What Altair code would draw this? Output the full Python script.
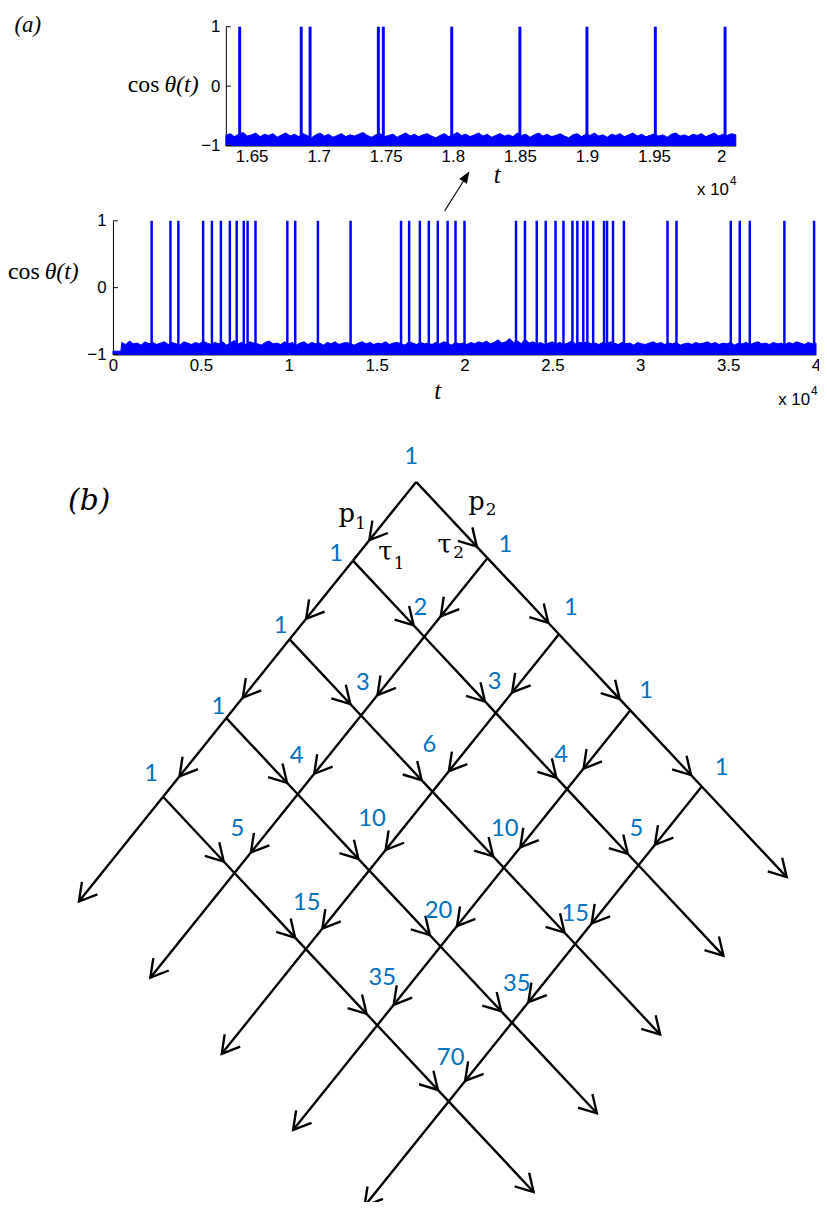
import math
import altair as alt
import numpy as np
import pandas as pd

# ======================= DATA =======================
# (a) upper panel: zoomed time window (t in units of 10^4)
top_t_range = [1.6308, 2.011]
top_spikes = [1.6411, 1.6870, 1.6936, 1.7445, 1.7482, 1.7992, 1.8500, 1.9000, 1.9510, 2.0030]
top_env = [
    -0.83, -0.80, -0.85, -0.81, -0.78, -0.84, -0.82, -0.79, -0.85, -0.81,
    -0.83, -0.80, -0.86, -0.82, -0.79, -0.84, -0.81, -0.85, -0.80, -0.83,
    -0.87, -0.82, -0.79, -0.84, -0.81, -0.86, -0.83, -0.80, -0.85, -0.82,
    -0.84, -0.81, -0.78, -0.83, -0.86, -0.82, -0.80, -0.85, -0.83, -0.81,
    -0.86, -0.82, -0.79, -0.84, -0.81, -0.85, -0.82, -0.80, -0.84, -0.87,
    -0.83, -0.80, -0.85, -0.82, -0.78, -0.83, -0.81, -0.85, -0.82, -0.79,
    -0.84, -0.81, -0.86, -0.83, -0.80, -0.84, -0.82, -0.85, -0.79, -0.83,
    -0.81, -0.86, -0.82, -0.79, -0.84, -0.81, -0.85, -0.83, -0.80, -0.84,
    -0.87, -0.82, -0.80, -0.85, -0.81, -0.83, -0.79, -0.84, -0.82, -0.86,
    -0.81, -0.83, -0.80, -0.85, -0.82, -0.79, -0.84, -0.81, -0.85, -0.83,
    -0.80, -0.84, -0.82, -0.86, -0.81, -0.79, -0.84, -0.82, -0.85, -0.81,
    -0.83, -0.80, -0.85, -0.82, -0.79, -0.84, -0.81, -0.83, -0.80, -0.82,
]
top_xticks = [1.65, 1.7, 1.75, 1.8, 1.85, 1.9, 1.95, 2.0]

# (a) lower panel: full record
bot_t_range = [0, 4]
bot_spikes = [
    0.220, 0.327, 0.372, 0.513, 0.563, 0.614, 0.665, 0.704, 0.744, 0.766,
    0.811, 0.992, 1.037, 1.166, 1.352, 1.639, 1.685, 1.746, 1.797, 1.848,
    1.904, 1.949, 2.000, 2.293, 2.344, 2.411, 2.462, 2.518, 2.563, 2.614,
    2.642, 2.676, 2.699, 2.732, 2.794, 2.811, 2.845, 2.907, 3.155, 3.206,
    3.515, 3.566, 3.623, 3.820, 3.989,
]
bot_lead_t = [0.0, 0.045]
bot_lead_v = [-0.95, -0.95]
bot_env_t_range = [0.05, 4.0]
bot_env = [
    -0.82, -0.85, -0.80, -0.84, -0.83, -0.86, -0.81, -0.84, -0.82, -0.85,
    -0.83, -0.81, -0.85, -0.82, -0.84, -0.86, -0.81, -0.83, -0.85, -0.82,
    -0.84, -0.80, -0.83, -0.85, -0.82, -0.84, -0.81, -0.86, -0.83, -0.79,
    -0.84, -0.82, -0.85, -0.81, -0.83, -0.84, -0.86, -0.82, -0.80, -0.84,
    -0.83, -0.85, -0.81, -0.84, -0.82, -0.86, -0.83, -0.81, -0.85, -0.82,
    -0.84, -0.83, -0.86, -0.82, -0.84, -0.81, -0.85, -0.83, -0.82, -0.84,
    -0.86, -0.83, -0.81, -0.84, -0.82, -0.85, -0.83, -0.84, -0.81, -0.85,
    -0.83, -0.82, -0.84, -0.86, -0.81, -0.83, -0.85, -0.82, -0.84, -0.83,
    -0.85, -0.82, -0.84, -0.81, -0.83, -0.86, -0.82, -0.84, -0.83, -0.85,
    -0.82, -0.84, -0.81, -0.83, -0.80, -0.84, -0.82, -0.78, -0.83, -0.81,
    -0.76, -0.82, -0.80, -0.84, -0.77, -0.83, -0.81, -0.84, -0.82, -0.85,
    -0.83, -0.81, -0.84, -0.82, -0.85, -0.83, -0.80, -0.84, -0.82, -0.83,
    -0.81, -0.84, -0.83, -0.85, -0.82, -0.84, -0.81, -0.83, -0.85, -0.82,
    -0.84, -0.83, -0.86, -0.82, -0.84, -0.85, -0.83, -0.81, -0.84, -0.82,
    -0.85, -0.83, -0.84, -0.82, -0.86, -0.84, -0.83, -0.85, -0.82, -0.84,
    -0.83, -0.81, -0.84, -0.82, -0.85, -0.83, -0.84, -0.82, -0.86, -0.83,
    -0.84, -0.82, -0.85, -0.83, -0.81, -0.84, -0.83, -0.85, -0.82, -0.84,
    -0.83, -0.85, -0.82, -0.84, -0.81, -0.83, -0.85, -0.82, -0.84, -0.83,
]
bot_xticks = [0, 0.5, 1, 1.5, 2, 2.5, 3, 3.5, 4]
y_ticks = [-1, 0, 1]

# (b) lattice: counts at node (i steps down-left, j steps down-right)
node_counts = [
    [1, 1, 1, 1, 1],
    [1, 2, 3, 4, 5],
    [1, 3, 6, 10, 15],
    [1, 4, 10, 20, 35],
    [1, 5, 15, 35, 70],
]

# ======================= LAYOUT =======================
M = 8                      # page margin
W, H = 819, 1194           # drawing area (page coords minus margin)
BLUE = "#0000FF"
NUMBLUE = "#0070C0"
SANS = "Liberation Sans"
SERIF = "Liberation Serif"

# pixel placement of the two time-series panels (page coords)
top_px_x = [228, 743]
top_px_y = [141, 21]       # y=-1 , y=1
bot_px_x = [114, 824]
bot_px_y = [352, 217]

# lattice geometry (page coords)
L_O = (420.2, 480.7)
L_U = (-63.9, 79.5)        # down-left step
L_V = (72.1, 76.9)         # down-right step
EXT_U, EXT_V = 1.33, 1.19  # length of outer free lines
F_U, F_V = 0.74, 0.85      # arrowhead position along inner segments

# label offsets from nodes (dx, dy), same order as node_counts
num_off = [
    [(-5, -25), (18, -13), (12, -26), (16, -19), (20, -19)],
    [(-17, -7), (-4, -29), (-1, -31), (-6, -34), (-2, -37)],
    [(-9, -13), (2, -33), (-3, -47), (1, -39), (0, -30)],
    [(-8, -11), (-1, -39), (3, -52), (-2, -36), (5, -39)],
    [(-12, -23), (3, -44), (1, -46), (5, -48), (2, -44)],
]

ARROW_OPEN = "M -0.5 0.866 L 0 0 L 0.5 0.866"
ARROW_FILL = "M 0 0 L -0.38 1 L 0.38 1 Z"


def cx(v):
    return v - M


def ang(dx, dy):
    return math.degrees(math.atan2(dx, -dy)) % 360


# ======================= PANEL (a) top =======================
tx = alt.Scale(domain=top_t_range, range=[cx(top_px_x[0]), cx(top_px_x[1])], nice=False, zero=False)
ty = alt.Scale(domain=[-1, 1], range=[cx(top_px_y[0]), cx(top_px_y[1])], nice=False, zero=False)
ax_style = dict(grid=False, title=None, labelFont=SANS, labelFontSize=17, labelColor="black",
                domainColor="black", domainWidth=1, labelFlush=False, labelOverlap=False,
                format="~g")
tax = alt.Axis(orient="bottom", offset=cx(top_px_y[0]) - H, values=top_xticks,
               tickSize=0, labelPadding=3, **ax_style)
tay = alt.Axis(orient="left", offset=-cx(top_px_x[0]), values=y_ticks, tickSize=0,
               labelPadding=6, **ax_style)

top_band_df = pd.DataFrame({"t": np.linspace(top_t_range[0], top_t_range[1], len(top_env)),
                            "v": top_env, "v2": -1.0})
top_spk_df = pd.DataFrame({"t": top_spikes, "v": -1.0, "v2": 1.0})
top_tick_df = pd.DataFrame({"v": y_ticks})

top_band = alt.Chart(top_band_df).mark_area(color=BLUE, stroke=BLUE, strokeWidth=1).encode(
    x=alt.X("t:Q", scale=tx, axis=tax), y=alt.Y("v:Q", scale=ty, axis=tay), y2="v2:Q")
top_spk = alt.Chart(top_spk_df).mark_rule(color=BLUE, strokeWidth=3).encode(
    x=alt.X("t:Q", scale=tx, axis=tax), y=alt.Y("v:Q", scale=ty, axis=tay), y2="v2:Q")
top_tk = alt.Chart(top_tick_df).mark_rule(color="black", strokeWidth=1).encode(
    x=alt.value(cx(top_px_x[0])), x2=alt.value(cx(top_px_x[0]) + 5),
    y=alt.Y("v:Q", scale=ty, axis=tay))
top_panel = alt.layer(top_band, top_spk, top_tk)

# ======================= PANEL (a) bottom =======================
bx = alt.Scale(domain=bot_t_range, range=[cx(bot_px_x[0]), cx(bot_px_x[1])], nice=False, zero=False)
by = alt.Scale(domain=[-1, 1], range=[cx(bot_px_y[0]), cx(bot_px_y[1])], nice=False, zero=False)
bax = alt.Axis(orient="bottom", offset=cx(bot_px_y[0]) - H, values=bot_xticks,
               tickSize=0, labelPadding=3, **ax_style)
bay = alt.Axis(orient="left", offset=-cx(bot_px_x[0]), values=y_ticks, tickSize=0,
               labelPadding=7, **ax_style)

bot_band_df = pd.DataFrame({
    "t": list(bot_lead_t) + list(np.linspace(bot_env_t_range[0], bot_env_t_range[1], len(bot_env))),
    "v": list(bot_lead_v) + bot_env, "v2": -1.0})
bot_spk_df = pd.DataFrame({"t": bot_spikes, "v": -1.0, "v2": 1.0})
bot_tick_df = pd.DataFrame({"v": y_ticks})

bot_band = alt.Chart(bot_band_df).mark_area(color=BLUE, stroke=BLUE, strokeWidth=1).encode(
    x=alt.X("t:Q", scale=bx, axis=bax), y=alt.Y("v:Q", scale=by, axis=bay), y2="v2:Q")
bot_spk = alt.Chart(bot_spk_df).mark_rule(color=BLUE, strokeWidth=2.5).encode(
    x=alt.X("t:Q", scale=bx, axis=bax), y=alt.Y("v:Q", scale=by, axis=bay), y2="v2:Q")
bot_tk = alt.Chart(bot_tick_df).mark_rule(color="black", strokeWidth=1).encode(
    x=alt.value(cx(bot_px_x[0])), x2=alt.value(cx(bot_px_x[0]) + 5),
    y=alt.Y("v:Q", scale=by, axis=bay))
bot_panel = alt.layer(bot_band, bot_spk, bot_tk)

# ======================= PANEL (b) + annotations (page-pixel scales) =======================
px = alt.Scale(domain=[M, M + W], range=[0, W], nice=False, zero=False)
py = alt.Scale(domain=[M, M + H], range=[0, H], nice=False, zero=False)
X = lambda f: alt.X(f, scale=px, axis=None)
Y = lambda f: alt.Y(f, scale=py, axis=None)

n = len(node_counts)
seg_rows, arr_rows, num_rows = [], [], []
for i in range(n):
    for j in range(n):
        x0 = L_O[0] + i * L_U[0] + j * L_V[0]
        y0 = L_O[1] + i * L_U[1] + j * L_V[1]
        for (d, last, ext, f) in ((L_U, i == n - 1, EXT_U, F_U), (L_V, j == n - 1, EXT_V, F_V)):
            k = ext if last else 1.0
            fr = 1.0 if last else f
            x1, y1 = x0 + k * d[0], y0 + k * d[1]
            seg_rows.append({"x": x0, "y": y0, "x2": x1, "y2": y1})
            arr_rows.append({"x": x0 + fr * (x1 - x0), "y": y0 + fr * (y1 - y0), "a": ang(*d)})
        dx, dy = num_off[i][j]
        num_rows.append({"x": x0 + dx, "y": y0 + dy, "text": str(node_counts[i][j])})

seg_df = pd.DataFrame(seg_rows)
arr_df = pd.DataFrame(arr_rows)
num_df = pd.DataFrame(num_rows)

segs = alt.Chart(seg_df).mark_rule(color="black", strokeWidth=2.4).encode(
    x=X("x:Q"), y=Y("y:Q"), x2="x2:Q", y2="y2:Q")
heads = alt.Chart(arr_df).mark_point(shape=ARROW_OPEN, size=1600, filled=False, color="black",
                                     strokeWidth=2.4, opacity=1).encode(
    x=X("x:Q"), y=Y("y:Q"), angle=alt.Angle("a:Q", scale=None))
nums = alt.Chart(num_df).mark_text(font="Lato", fontSize=24, color=NUMBLUE, align="center",
                                   baseline="middle").encode(x=X("x:Q"), y=Y("y:Q"), text="text:N")

# small arrow linking the two (a) panels
link_df = pd.DataFrame({"x": [449], "y": [207], "x2": [471], "y2": [172]})
link = alt.Chart(link_df).mark_rule(color="black", strokeWidth=1.1).encode(
    x=X("x:Q"), y=Y("y:Q"), x2="x2:Q", y2="y2:Q")
link_head_df = pd.DataFrame({"x": [474], "y": [167], "a": [ang(24, -38)]})
link_head = alt.Chart(link_head_df).mark_point(shape=ARROW_FILL, size=576, filled=True,
                                               color="black", opacity=1).encode(
    x=X("x:Q"), y=Y("y:Q"), angle=alt.Angle("a:Q", scale=None))


def texts(rows, **kw):
    df = pd.DataFrame(rows, columns=["x", "y", "text"])
    return alt.Chart(df).mark_text(**kw).encode(x=X("x:Q"), y=Y("y:Q"), text="text:N")


t_roman = texts([(129, 80, "cos"), (8, 269, "cos")], font=SERIF, fontSize=24, align="left",
                baseline="middle", color="black")
t_ital = texts([(166, 80, "θ(t)"), (45, 269, "θ(t)")], font=SERIF, fontSize=24, fontStyle="italic",
               align="left", baseline="middle", color="black")
t_t = texts([(502, 171, "t"), (442, 389, "t")], font=SERIF, fontSize=25, fontStyle="italic",
            align="center", baseline="middle", color="black")
t_a = texts([(28, 19, "(a)")], font=SERIF, fontSize=23, fontStyle="italic", align="center",
            baseline="middle", color="black")
t_x10 = texts([(736, 186, "x 10"), (818, 398, "x 10")], font=SANS, fontSize=17, align="right",
              baseline="middle", color="black")
t_exp = texts([(737, 177, "4"), (819, 389, "4")], font=SANS, fontSize=12, align="left",
              baseline="middle", color="black")
t_b = texts([(90, 500, "(b)")], font="DejaVu Serif", fontSize=30, fontStyle="italic",
            align="center", baseline="middle", color="black")
t_sym = texts([(350, 521, "p"), (389, 560, "τ"), (449, 552, "τ"), (481, 509, "p")],
              font="DejaVu Serif", fontSize=26, align="center", baseline="alphabetic", color="black")
t_sub = texts([(364, 528, "1"), (403, 569, "1"), (463, 558, "2"), (496, 514, "2")],
              font="DejaVu Serif", fontSize=17, align="center", baseline="alphabetic", color="black")

diag = alt.layer(segs, heads, nums, link, link_head, t_roman, t_ital, t_t, t_a, t_x10, t_exp,
                 t_b, t_sym, t_sub)

chart = alt.layer(top_panel, bot_panel, diag).resolve_scale(
    x="independent", y="independent").resolve_axis(x="independent", y="independent").properties(
    width=W, height=H, padding=0, autosize=alt.AutoSizeParams(type="none"),
    background="white").configure_view(stroke=None)

chart.save("out.html", embed_options={"renderer": "svg", "actions": False})
